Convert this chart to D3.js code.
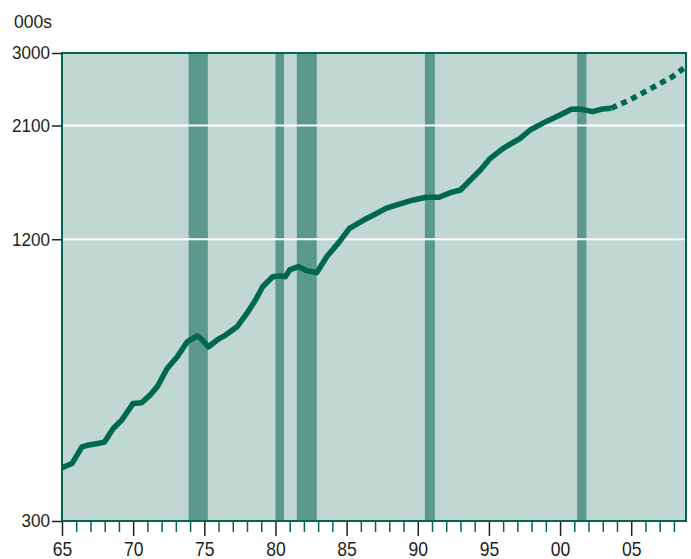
<!DOCTYPE html>
<html>
<head>
<meta charset="utf-8">
<script src="https://cdn.jsdelivr.net/npm/d3@7"></script>
<style>
  body { margin: 0; background: #fff; }
  text { font-family: "Liberation Sans", Arial, sans-serif; fill: #231f20; }
</style>
</head>
<body>
<div id="chart"></div>
<script>
// decimal years and values (thousands)
const years = [1965.0, 1965.7, 1966.4, 1966.9, 1967.8, 1968.0, 1968.6, 1969.2, 1970.0, 1970.6,
  1971.2, 1971.7, 1972.4, 1973.1, 1973.8, 1974.5, 1974.8, 1975.3, 1975.9, 1976.5,
  1977.3, 1978.0, 1978.6, 1979.1, 1979.8, 1980.3, 1980.7, 1981.0, 1981.6, 1982.2,
  1982.9, 1983.6, 1984.5, 1985.2, 1986.2, 1986.9, 1987.8, 1988.7, 1989.7, 1990.6,
  1991.5, 1992.3, 1993.0, 1993.7, 1994.4, 1995.1, 1996.0, 1997.2, 1997.9, 1999.0,
  2000.0, 2000.8, 2001.4, 2002.3, 2003.0, 2003.6];
const values = [390, 398, 432, 436, 441, 443, 473, 493, 535, 537,
  558, 581, 636, 673, 725, 746, 734, 707, 731, 749,
  780, 834, 890, 950, 998, 1002, 998, 1032, 1049, 1028,
  1018, 1101, 1186, 1266, 1319, 1352, 1398, 1427, 1456, 1475,
  1475, 1509, 1529, 1606, 1687, 1787, 1877, 1972, 2054, 2140,
  2211, 2274, 2278, 2248, 2278, 2285];
// projection (dotted)
const projYears = [2003.6, 2004.9, 2006.4, 2007.9, 2008.8];
const projValues = [2285, 2381, 2521, 2671, 2800];
// recession periods
const recStart = [1973.9, 1980.0, 1981.5, 1990.5, 2001.2];
const recEnd = [1975.25, 1980.6, 1982.9, 1991.2, 2001.85];
const yTicks = [300, 1200, 2100, 3000];
const gridValues = [1200, 2100];
const majorYears = [1965, 1970, 1975, 1980, 1985, 1990, 1995, 2000, 2005];

const W = 691, H = 559;
const margin = { left: 62, right: 5, top: 53, bottom: 38 };
const innerW = W - margin.left - margin.right;
const innerH = H - margin.top - margin.bottom;

const svg = d3.select('#chart').append('svg')
  .attr('width', W).attr('height', H);

const g = svg.append('g')
  .attr('transform', `translate(${margin.left},${margin.top})`);

const x = d3.scaleLinear().domain([1965, 2008.85]).range([0, innerW]);
const y = d3.scaleLog().domain([300, 3000]).range([innerH, 0]);

// background
g.append('rect')
  .attr('width', innerW).attr('height', innerH)
  .attr('fill', '#c1d8d2');

// recession bars
g.selectAll('.rec')
  .data(recStart.map((s, i) => ({ s, e: recEnd[i] })))
  .enter().append('rect')
  .attr('x', d => x(d.s))
  .attr('width', d => x(d.e) - x(d.s))
  .attr('y', 0).attr('height', innerH)
  .attr('fill', '#5a998b');

// gridlines
g.selectAll('.grid')
  .data(gridValues)
  .enter().append('line')
  .attr('x1', 0).attr('x2', innerW)
  .attr('y1', d => y(d)).attr('y2', d => y(d))
  .attr('stroke', '#fff').attr('stroke-width', 2);

// series
const line = d3.line().x(d => x(d[0])).y(d => y(d[1]));
g.append('path')
  .datum(years.map((yr, i) => [yr, values[i]]))
  .attr('d', line)
  .attr('fill', 'none')
  .attr('stroke', '#00684f')
  .attr('stroke-width', 5.5)
  .attr('stroke-linejoin', 'round');

g.append('path')
  .datum(projYears.map((yr, i) => [yr, projValues[i]]))
  .attr('d', line)
  .attr('fill', 'none')
  .attr('stroke', '#00684f')
  .attr('stroke-width', 5.5)
  .attr('stroke-dasharray', '6,5');

// frame
g.append('rect')
  .attr('width', innerW).attr('height', innerH)
  .attr('fill', 'none')
  .attr('stroke', '#00684f').attr('stroke-width', 2);

// x axis: minor yearly ticks
const minorYears = d3.range(1966, 2009).filter(v => !majorYears.includes(v));
const xMinor = g.append('g')
  .attr('transform', `translate(0,${innerH + 1})`)
  .call(d3.axisBottom(x).tickValues(minorYears).tickSize(10).tickFormat(''));
xMinor.select('.domain').remove();
xMinor.selectAll('line').attr('stroke', '#00684f').attr('stroke-width', 1.5);

const xMajor = g.append('g')
  .attr('transform', `translate(0,${innerH + 1})`)
  .call(d3.axisBottom(x).tickValues(majorYears).tickSize(14)
    .tickFormat(d => String(d % 100).padStart(2, '0')));
xMajor.select('.domain').remove();
xMajor.selectAll('line').attr('stroke', '#231f20').attr('stroke-width', 1.5);
// condensed look: squeeze the labels to the reference width
xMajor.selectAll('text')
  .attr('font-family', '"Liberation Sans", Arial, sans-serif')
  .attr('font-size', 21).attr('y', 33.7).attr('dy', 0)
  .attr('textLength', 19.5).attr('lengthAdjust', 'spacingAndGlyphs');

// y axis
const yAxis = g.append('g')
  .call(d3.axisLeft(y).tickValues(yTicks).tickSize(10).tickPadding(2).tickFormat(d3.format('d')));
yAxis.select('.domain').remove();
yAxis.selectAll('line').attr('stroke', '#231f20').attr('stroke-width', 1.5);
yAxis.selectAll('text')
  .attr('font-family', '"Liberation Sans", Arial, sans-serif')
  .attr('font-size', 18.5)
  .attr('textLength', d => String(d).length * 9.5).attr('lengthAdjust', 'spacingAndGlyphs');

// unit label
svg.append('text')
  .attr('x', 14).attr('y', 28)
  .attr('font-size', 18)
  .attr('textLength', 38).attr('lengthAdjust', 'spacingAndGlyphs')
  .text('000s');
</script>
</body>
</html>
